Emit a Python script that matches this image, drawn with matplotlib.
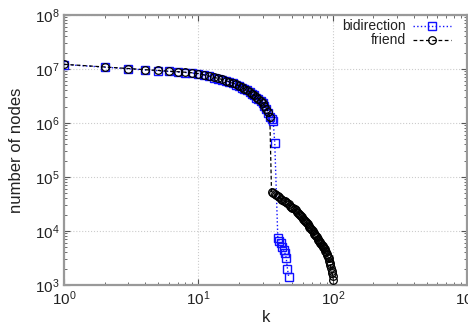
import matplotlib
matplotlib.use("Agg")
import matplotlib.pyplot as plt
from matplotlib.ticker import LogLocator, NullFormatter

plt.rcParams['font.family'] = ['Liberation Sans', 'DejaVu Sans']
plt.rcParams['mathtext.fontset'] = 'custom'
plt.rcParams['mathtext.rm'] = 'Liberation Sans'
plt.rcParams['mathtext.it'] = 'Liberation Sans:italic'

# ---- data ----
friend_k = list(range(1, 102))
friend_n = [
    12200000, 10900000, 10200000, 9700000, 9400000, 9100000, 8900000, 8700000, 8500000, 8200000,
    7800000, 7400000, 7000000, 6700000, 6400000, 6100000, 5800000, 5500000, 5200000, 4900000,
    4600000, 4300000, 4100000, 3800000, 3500000, 3300000, 3000000, 2800000, 2600000, 2350000,
    2100000, 1850000, 1600000, 1300000,
    52500, 50100, 47900, 45700, 43700, 41700, 39800, 38000, 36300, 35500,
    33900, 32400, 30900, 29500, 28200, 26900, 26300, 25100, 24000, 22900,
    21900, 20900, 19500, 18600, 17800, 16600, 15800, 15100, 14500, 13800,
    13200, 12600, 12000, 11500, 11000, 10200, 9800, 9100, 8700, 8300,
    7900, 7600, 7200, 6900, 6600, 6300, 6000, 5750, 5500, 5250,
    5000, 4800, 4550, 4250, 4050, 3800, 3550, 3300, 3100, 2800,
    2550, 2350, 2100, 1850, 1650, 1450, 1250,
]

bidir_k = list(range(1, 38)) + list(range(39, 48))
bidir_n = [
    12100000, 10800000, 10100000, 9600000, 9300000, 9000000, 8800000, 8600000, 8400000, 8100000,
    7700000, 7300000, 6900000, 6600000, 6300000, 6000000, 5700000, 5400000, 5100000, 4800000,
    4500000, 4250000, 4000000, 3750000, 3450000, 3250000, 2950000, 2750000, 2550000, 2300000,
    2050000, 1800000, 1550000, 1300000, 1200000, 1100000, 430000,
    7400, 6600, 5900, 5100, 4500, 3900, 3200, 2000, 1400,
]

x_ticks = [1, 10, 100, 1000]
x_labels = [r'$10^{0}$', r'$10^{1}$', r'$10^{2}$', r'$10^{3}$']
y_ticks = [1e3, 1e4, 1e5, 1e6, 1e7, 1e8]
y_labels = [r'$10^{3}$', r'$10^{4}$', r'$10^{5}$', r'$10^{6}$', r'$10^{7}$', r'$10^{8}$']

fig = plt.figure(figsize=(4.68, 3.26), dpi=100)
ax = fig.add_axes([0.137, 0.126, 0.861, 0.828])

ax.plot(bidir_k, bidir_n, linestyle=':', color='#1010ff', linewidth=1.0,
        marker='s', markersize=6, markerfacecolor='none', markeredgecolor='#1010ff',
        markeredgewidth=1.0, label='bidirection', zorder=3)
ax.plot(friend_k, friend_n, linestyle='--', dashes=(3, 2), color='black', linewidth=0.9,
        marker='o', markersize=5.5, markerfacecolor='none', markeredgecolor='black',
        markeredgewidth=0.9, label='friend', zorder=4)

ax.set_xscale('log')
ax.set_yscale('log')
ax.set_xlim(1, 1000)
ax.set_ylim(1e3, 1e8)
ax.set_xticks(x_ticks)
ax.set_xticklabels(x_labels)
ax.set_yticks(y_ticks)
ax.set_yticklabels(y_labels)
ax.xaxis.set_minor_locator(LogLocator(base=10, subs=range(2, 10)))
ax.yaxis.set_minor_locator(LogLocator(base=10, subs=range(2, 10)))
ax.xaxis.set_minor_formatter(NullFormatter())
ax.yaxis.set_minor_formatter(NullFormatter())

ax.grid(True, which='major', color='#cccccc', linestyle=':', linewidth=0.8)
ax.tick_params(which='both', direction='in', top=True, right=True, colors='#555555',
               labelcolor='#222222', labelsize=11)
ax.tick_params(which='major', length=4, width=0.8)
ax.tick_params(which='minor', length=2, width=0.6)
for s in ax.spines.values():
    s.set_color('#999999')
    s.set_linewidth(1.6)

ax.set_xlabel('k', fontsize=12, color='#222222', labelpad=1)
ax.set_ylabel('number of nodes', fontsize=12, color='#222222', labelpad=8)

leg = fig.legend(loc='upper right', bbox_to_anchor=(452 / 468, 1 - 18 / 326),
                 markerfirst=False, frameon=False, fontsize=10,
                 handlelength=2.7, handletextpad=0.5, labelspacing=0.0,
                 borderpad=0.1, borderaxespad=0.0)
for t in leg.get_texts():
    t.set_color('#222222')
    t.set_ha('right')

fig.savefig('out.png', dpi=100)
